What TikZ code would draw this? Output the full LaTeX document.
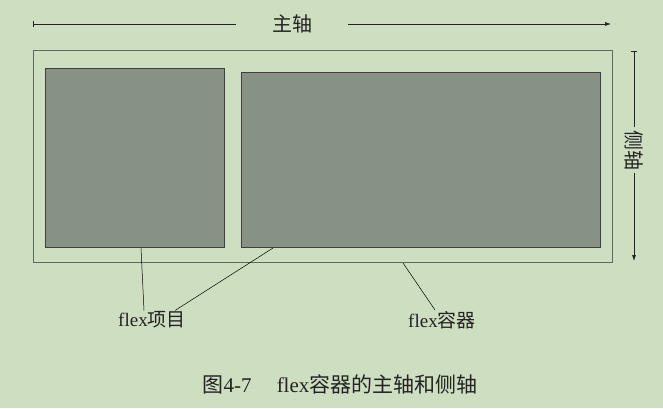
\documentclass[tikz,border=0pt]{standalone}
\usepackage{fontspec}
\setmainfont{Liberation Serif}
\newfontfamily\cjk{Noto Sans CJK SC}
\usetikzlibrary{positioning,arrows.meta}
\definecolor{bggreen}{RGB}{206,222,193}
\definecolor{itemgray}{RGB}{135,146,133}
\definecolor{framegray}{RGB}{95,105,95}
\definecolor{textgray}{RGB}{35,35,35}

\begin{document}
\begin{tikzpicture}[x=1pt,y=-1pt,
  box/.style={draw=framegray,line width=1pt,inner sep=0pt,anchor=north west},
  item/.style={box,draw=black!75,fill=itemgray},
  axis/.style={line width=0.6pt,draw=textgray},
  lead/.style={line width=0.5pt,draw=black},
  lbl/.style={font=\fontsize{19}{19}\selectfont,text=textgray,inner sep=1pt}]

 \fill[bggreen] (0,0) rectangle (663,408);
 \useasboundingbox (0,0) rectangle (663,408);

 % container and its two items
 \node[box,minimum width=579pt,minimum height=212pt] (container) at (33,50) {};
 \node[item,minimum width=179pt,minimum height=179pt] (item1) at (45,68) {};
 \node[item,minimum width=359pt,minimum height=175pt] (item2) at (241,72) {};

 % main axis
 \node[lbl,font=\fontsize{20}{20}\selectfont,inner xsep=36pt] (mainaxis) at (292,24) {\cjk 主轴};
 \coordinate (mainstart) at (33,24);
 \coordinate (mainend) at (611,24);
 \draw[axis,{Bar[width=6pt]}-] (mainstart) -- (mainaxis.west);
 \draw[axis,-{Latex[length=6pt,width=4pt]}] (mainaxis.east) -- (mainend);

 % cross axis
 \node[lbl,font=\fontsize{20}{20}\selectfont,rotate=-90,inner xsep=3pt] (crossaxis) at (634,150) {\cjk 侧轴};
 \coordinate (crossstart) at (634,51);
 \coordinate (crossend) at (634,261);
 \draw[axis,{Bar[width=6pt]}-] (crossstart) -- (crossaxis.west);
 \draw[axis,-{Latex[length=6pt,width=4pt]}] (crossaxis.east) -- (crossend);

 % labels
 \node[lbl] (itemlbl) at (152,320) {flex{\cjk 项目}};
 \node[lbl] (contlbl) at (442,320) {flex{\cjk 容器}};

 \draw[lead] ([xshift=96pt]item1.south west) -- ([xshift=-8pt]itemlbl.north);
 \draw[lead] ([xshift=32pt]item2.south west) -- ([xshift=23pt]itemlbl.north);
 \draw[lead] ([xshift=370pt]container.south west) -- ([xshift=-7pt]contlbl.north);

 \node[font=\fontsize{21}{21}\selectfont,text=textgray] (caption) at (340,384)
   {{\cjk 图}4-7\hspace{1.2em}flex{\cjk 容器的主轴和侧轴}};
\end{tikzpicture}
\end{document}
